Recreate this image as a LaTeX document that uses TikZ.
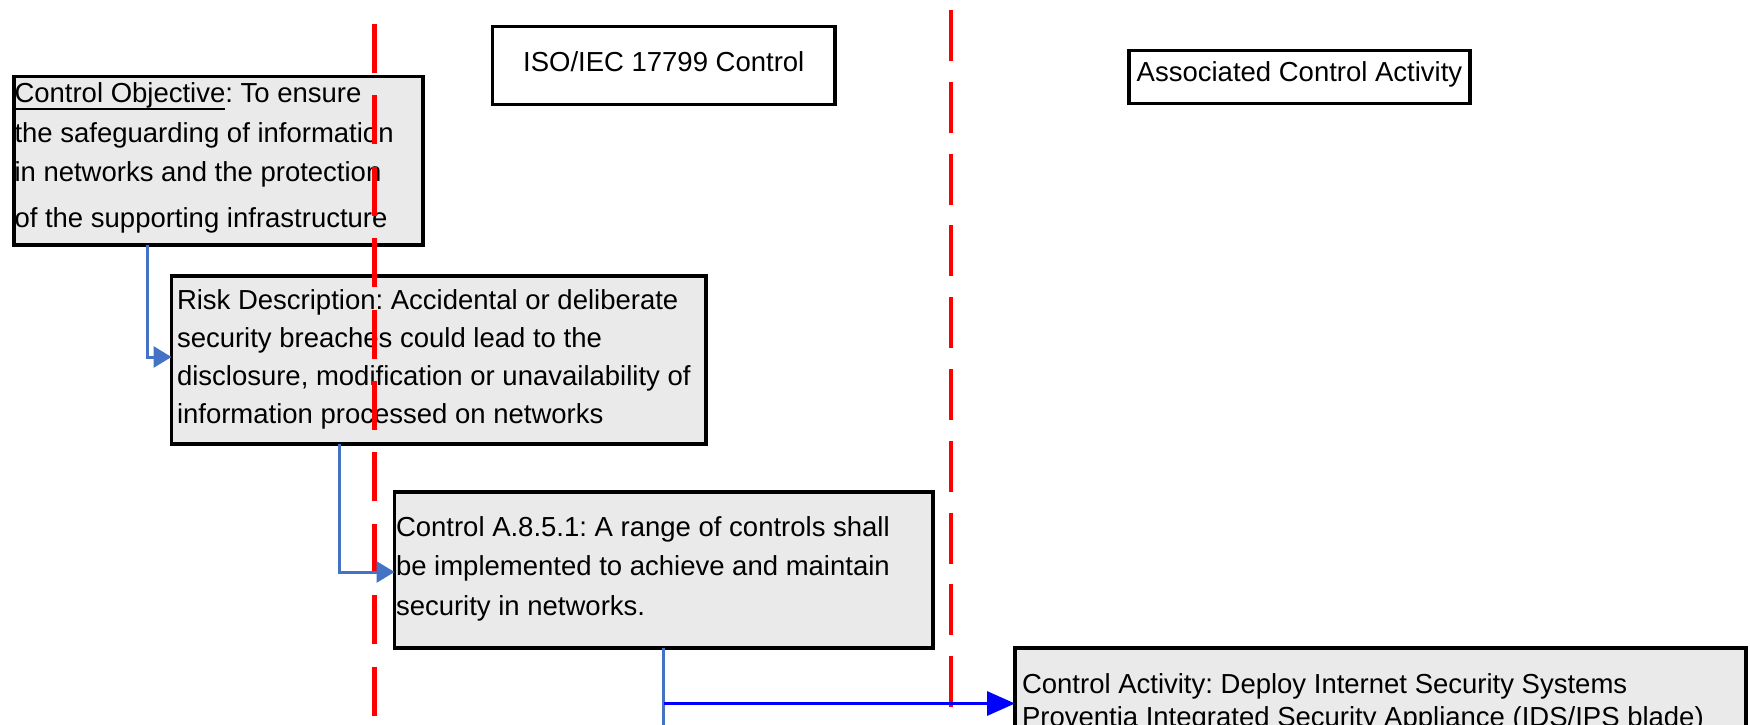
\documentclass[tikz,border=0pt]{standalone}
\usepackage{fontspec}
\setmainfont{Liberation Sans}
\usetikzlibrary{arrows.meta,calc}
\definecolor{steel}{HTML}{4472C4}
\definecolor{boxgray}{HTML}{EAEAEA}
\definecolor{dashred}{HTML}{FF0000}
\definecolor{linkblue}{HTML}{0000FF}
\newcommand\ulobj[1]{\setbox0\hbox{#1}\rlap{\rule[-7pt]{\wd0}{2pt}}\box0}
\frenchspacing
\begin{document}
\begin{tikzpicture}[x=1pt,y=-1pt,
  every node/.style={inner sep=0pt,outer sep=0pt},
  box/.style={draw=black,line width=3.5pt,fill=boxgray,anchor=north west},
  headbox/.style={draw=black,line width=3.5pt,fill=white,anchor=north west,
     font=\fontsize{27.5}{33}\selectfont,text height=20pt},
  txt/.style={anchor=base west,align=left,font=\fontsize{27.5}{#1}\selectfont},
  txt/.default=39.5,
  sepline/.style={draw=dashred,line width=#1},
  trunk/.style={draw=steel,line width=3pt},
  link/.style={draw=steel,line width=3pt,-{Triangle[length=18pt,width=21pt]}},
  link3/.style={draw=linkblue,line width=3.2pt,-{Triangle[length=28pt,width=24pt]}}]
\useasboundingbox (0,0) rectangle (1750,725);
\clip (0,0) rectangle (1750,725);
\fill[white] (0,0) rectangle (1750,725);

% header boxes
\node[headbox,minimum width=342.5,minimum height=78,text depth=7.6pt] (h1) at (492.5,26.3) {ISO/IEC 17799 Control};
\node[headbox,minimum width=341,minimum height=53,text depth=11pt] (h2) at (1129,50.7) {Associated Control Activity};

% content boxes (text nodes anchored at the baseline of their last line)
\node[box,minimum width=409,minimum height=168.5] (b1) at (14,76.5) {};
\node[txt] (t1) at ($(b1.north west)+(0.5,150.7)$)
  {\ulobj{Control Objective}: To ensure\\the safeguarding of information\\in networks and the protection\\[6pt]of the supporting infrastructure};

\node[box,minimum width=534.5,minimum height=168] (b2) at (171.5,276) {};
\node[txt=38] (t2) at ($(b2.north west)+(5.5,147)$)
  {Risk Description: Accidental or deliberate\\security breaches could lead to the\\disclosure, modification or unavailability of\\information processed on networks};

\node[box,minimum width=538.5,minimum height=156] (b3) at (394.5,492) {};
\node[txt=39.5] (t3) at ($(b3.north west)+(1.5,123)$)
  {Control A.8.5.1: A range of controls shall\\be implemented to achieve and maintain\\security in networks.};

\node[box,minimum width=731,minimum height=200] (b4) at (1015,648) {};
\node[txt=33] (t4) at ($(b4.north west)+(7,78)$)
  {Control Activity: Deploy Internet Security Systems\\Proventia Integrated Security Appliance (IDS/IPS blade)};

% red dashed separators
\coordinate (s1top) at (374.5,24);
\coordinate (s1bot) at (374.5,740);
\coordinate (s2top) at (951,10);
\coordinate (s2bot) at (951,740);
\draw[sepline=5pt,dash pattern=on 49pt off 22.4pt] (s1top) -- (s1bot);
\draw[sepline=3.5pt,dash pattern=on 51pt off 20.8pt] (s2top) -- (s2bot);

% connectors
\coordinate (j1) at ($(b1.south west)+(133.5,0)$);
\coordinate (e1) at ($(b2.north west)+(0,81)$);
\draw[link] (j1) |- (e1);

\coordinate (j2) at ($(b2.south west)+(167.8,0)$);
\coordinate (e2) at ($(b3.north west)+(0,80)$);
\draw[link] (j2) |- (e2);

\coordinate (j3) at ($(b3.south west)+(269,0)$);
\coordinate (bot) at ($(j3)+(0,100)$);
\coordinate (e3) at ($(b4.north west)+(0,55.5)$);
\draw[trunk] (j3) -- (bot);
\draw[link3] (j3 |- e3) -- (e3);
\end{tikzpicture}
\end{document}
